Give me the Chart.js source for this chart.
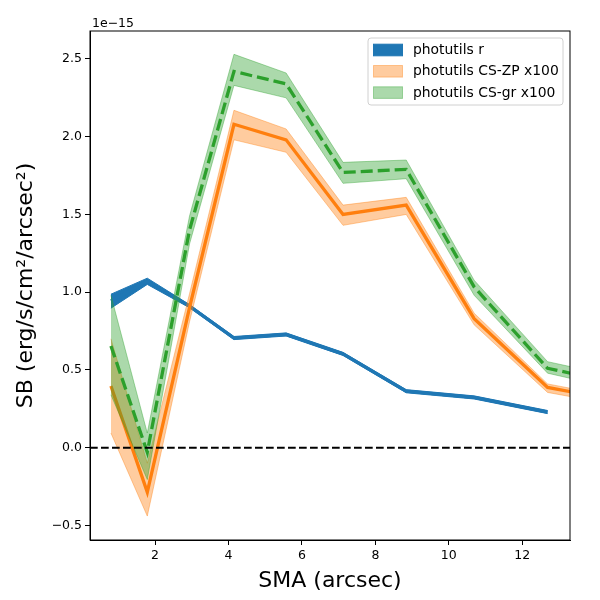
<!DOCTYPE html>
<html>
<head>
<meta charset="utf-8">
<script src="https://cdn.jsdelivr.net/npm/chart.js@4"></script>
<style>
  html, body { margin:0; padding:0; background:#fff; }
  #wrap { width:600px; height:600px; }
</style>
</head>
<body>
<div id="wrap"><canvas id="sbChart" width="600" height="600"></canvas></div>
<script>
// SMA radii (arcsec)
const sma = [0.80, 1.79, 2.94, 4.15, 5.57, 7.12, 8.84, 10.69, 12.69, 14.9];

// photutils r (units of 1e-15)
const rVal = [0.944, 1.07, 0.91, 0.705, 0.728, 0.603, 0.363, 0.323, 0.229];
const rLo  = [0.897, 1.05, 0.90, 0.695, 0.718, 0.593, 0.353, 0.313, 0.219];
const rHi  = [0.987, 1.09, 0.92, 0.715, 0.738, 0.613, 0.373, 0.333, 0.239];

// photutils CS-ZP x100
const zpVal = [0.397, -0.286, 0.90, 2.08, 1.98, 1.50, 1.56, 0.83, 0.387, 0.29];
const zpHi  = [0.70, -0.10, 0.99, 2.17, 2.05, 1.56, 1.61, 0.865, 0.41, 0.31];
const zpLo  = [0.094, -0.44, 0.81, 1.98, 1.90, 1.43, 1.50, 0.79, 0.355, 0.26];

// photutils CS-gr x100
const grVal = [0.654, -0.03, 1.40, 2.42, 2.34, 1.77, 1.79, 1.034, 0.51, 0.40];
const grHi  = [0.98, 0.094, 1.49, 2.53, 2.41, 1.835, 1.85, 1.077, 0.553, 0.44];
const grLo  = [0.34, -0.205, 1.31, 2.33, 2.25, 1.70, 1.73, 0.98, 0.479, 0.36];

// tick labels
const xTicks = [2, 4, 6, 8, 10, 12];
const yTicks = [-0.5, 0.0, 0.5, 1.0, 1.5, 2.0, 2.5];

const legendLabels = ["photutils r", "photutils CS-ZP x100", "photutils CS-gr x100"];

const FONT = "'DejaVu Sans', sans-serif";
const BLUE = '#1f77b4';
const ORANGE = '#ff7f0e';
const GREEN = '#2ca02c';
const ORANGE_A = 'rgba(255,127,14,0.4)';
const GREEN_A = 'rgba(44,160,44,0.4)';

function pts(ys){
  return ys.map((y, i) => ({ x: sma[i], y: y }));
}

// band = upper edge + lower edge filled to it
function band(hi, lo, fillColor, edgeColor, order){
  const common = { pointRadius:0, borderWidth:1, borderColor:edgeColor, tension:0, order:order };
  return [
    Object.assign({ data: pts(hi), fill:false }, common),
    Object.assign({ data: pts(lo), fill:'-1', backgroundColor:fillColor }, common)
  ];
}

function line(vals, color, dash, order){
  return { data: pts(vals), borderColor:color, borderWidth:3.3, borderDash:dash,
           pointRadius:0, fill:false, tension:0, order:order };
}

// top/right spines + 1e-15 offset text
const framePlugin = {
  id: 'frame',
  afterDraw(chart){
    const {ctx, chartArea:a} = chart;
    ctx.save();
    ctx.strokeStyle = '#000';
    ctx.lineWidth = 1;
    ctx.strokeRect(a.left, a.top, a.right - a.left, a.bottom - a.top);
    ctx.fillStyle = '#000';
    ctx.font = '12.5px ' + FONT;
    ctx.textAlign = 'left';
    ctx.textBaseline = 'alphabetic';
    ctx.fillText('1e\u221215', a.left + 2, a.top - 4);
    ctx.restore();
  }
};

// dashed zero line across the axes
const zeroLine = {
  id: 'zeroLine',
  afterDatasetsDraw(chart){
    const {ctx, chartArea:a, scales} = chart;
    const y = scales.y.getPixelForValue(0);
    ctx.save();
    ctx.strokeStyle = '#000';
    ctx.lineWidth = 2;
    ctx.setLineDash([7.7, 3.3]);
    ctx.beginPath();
    ctx.moveTo(a.left, y);
    ctx.lineTo(a.right, y);
    ctx.stroke();
    ctx.restore();
  }
};

// matplotlib style legend in the upper right
const legendBox = {
  id: 'legendBox',
  afterDraw(chart){
    const {ctx, chartArea:a} = chart;
    const w = 195, h = 67;
    const x0 = a.right - 7 - w, y0 = a.top + 7;
    ctx.save();
    ctx.beginPath();
    ctx.roundRect(x0, y0, w, h, 3);
    ctx.fillStyle = 'rgba(255,255,255,0.8)';
    ctx.fill();
    ctx.strokeStyle = '#d0d0d0';
    ctx.lineWidth = 1;
    ctx.stroke();
    const fills = [BLUE, ORANGE_A, GREEN_A];
    const edges = [BLUE, ORANGE_A, GREEN_A];
    ctx.font = '13.9px ' + FONT;
    ctx.textBaseline = 'middle';
    legendLabels.forEach((lab, i) => {
      const cy = y0 + 12 + i * 21.3;
      ctx.fillStyle = fills[i];
      ctx.fillRect(x0 + 5.5, cy - 5.8, 29, 11.6);
      ctx.strokeStyle = edges[i];
      ctx.strokeRect(x0 + 5.5, cy - 5.8, 29, 11.6);
      ctx.fillStyle = '#000';
      ctx.fillText(lab, x0 + 45, cy + 0.5);
    });
    ctx.restore();
  }
};

function tickSetter(list){
  return function(scale){ scale.ticks = list.map(v => ({ value: v })); };
}

function init(){
  const ctx = document.getElementById('sbChart').getContext('2d');
  const datasets = [].concat(
    band(rHi, rLo, BLUE, BLUE, 9),
    [line(rVal, BLUE, [], 8)],
    band(zpHi, zpLo, ORANGE_A, ORANGE_A, 7),
    [line(zpVal, ORANGE, [], 6)],
    band(grHi, grLo, GREEN_A, GREEN_A, 5),
    [line(grVal, GREEN, [12, 5], 4)]
  );

  new Chart(ctx, {
    type: 'line',
    data: { datasets: datasets },
    options: {
      responsive: false,
      animation: false,
      devicePixelRatio: 1,
      layout: { padding: { top: 31, right: 30, left: 0, bottom: 0 } },
      plugins: { legend: { display: false }, tooltip: { enabled: false } },
      scales: {
        x: {
          type: 'linear',
          min: 0.23, max: 13.3,
          afterBuildTicks: tickSetter(xTicks),
          afterFit(scale){ scale.height = 60; },
          grid: { display: true, drawOnChartArea: false, drawTicks: true, tickLength: 5, color: '#000' },
          border: { display: true, color: '#000', width: 1 },
          ticks: { color: '#000', font: { family: FONT, size: 12.5 }, padding: 3, maxRotation: 0 },
          title: { display: true, text: 'SMA (arcsec)', color: '#000',
                   font: { family: FONT, size: 22 }, padding: { top: 0, bottom: 6 } }
        },
        y: {
          type: 'linear',
          min: -0.594, max: 2.68,
          afterBuildTicks: tickSetter(yTicks),
          afterFit(scale){ scale.width = 90; },
          grid: { display: true, drawOnChartArea: false, drawTicks: true, tickLength: 5, color: '#000' },
          border: { display: true, color: '#000', width: 1 },
          ticks: { color: '#000', font: { family: FONT, size: 12.5 }, padding: 3,
                   callback: v => v.toFixed(1).replace('-', '\u2212') },
          title: { display: true, text: 'SB (erg/s/cm\u00b2/arcsec\u00b2)', color: '#000',
                   font: { family: FONT, size: 22 }, padding: { top: 13, bottom: 0 } }
        }
      }
    },
    plugins: [zeroLine, framePlugin, legendBox]
  });
}

document.addEventListener('DOMContentLoaded', init);
</script>
</body>
</html>
